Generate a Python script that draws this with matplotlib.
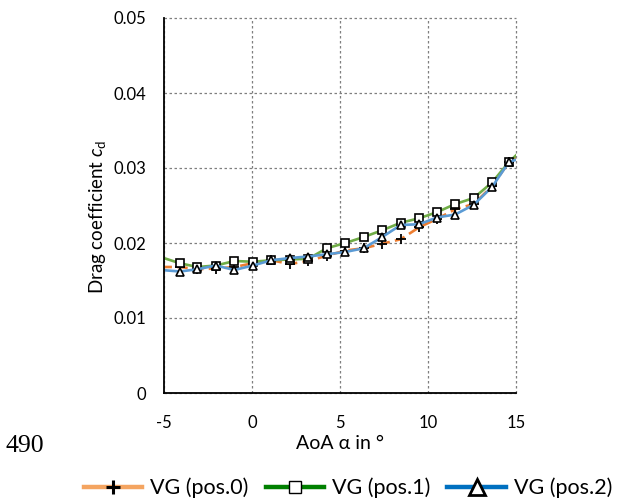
import matplotlib
matplotlib.use("Agg")
import matplotlib.pyplot as plt
from matplotlib.lines import Line2D

# Angle of attack in degrees (outer points lie just beyond the axis limits)
aoa = [-5.15, -4.1, -3.1, -2.05, -1.0, 0.05, 1.1, 2.15, 3.2, 4.25, 5.3, 6.35,
       7.4, 8.45, 9.5, 10.5, 11.55, 12.6, 13.65, 14.6, 15.55]

# Drag coefficient for each vortex generator position
cd_pos0 = [0.0168, 0.0168, 0.0165, 0.0166, 0.0168, 0.0173, 0.0177, 0.0172,
           0.0176, 0.0183, 0.0190, 0.0193, 0.0199, 0.0205, 0.0221, 0.0232,
           0.0245, 0.0252, 0.0276, 0.0308, 0.0320]
cd_pos1 = [0.0181, 0.0173, 0.0168, 0.0170, 0.0176, 0.0175, 0.0177, 0.0178,
           0.0179, 0.0193, 0.0200, 0.0208, 0.0217, 0.0227, 0.0233, 0.0241,
           0.0252, 0.0260, 0.0281, 0.0308, 0.0329]
cd_pos2 = [0.0164, 0.0162, 0.0165, 0.0170, 0.0164, 0.0170, 0.0177, 0.0180,
           0.0182, 0.0185, 0.0188, 0.0193, 0.0208, 0.0224, 0.0225, 0.0234,
           0.0238, 0.0251, 0.0275, 0.0308, 0.0315]

series_labels = ["VG (pos.0)", "VG (pos.1)", "VG (pos.2)"]
x_ticks = [-5, 0, 5, 10, 15]
y_ticks = [0, 0.01, 0.02, 0.03, 0.04, 0.05]
y_tick_labels = ["0", "0.01", "0.02", "0.03", "0.04", "0.05"]

plt.rcParams["font.family"] = ["Lato", "DejaVu Sans"]
plt.rcParams["mathtext.fontset"] = "custom"
plt.rcParams["mathtext.rm"] = "Lato"
plt.rcParams["mathtext.it"] = "Lato:italic"

fig = plt.figure(figsize=(6.24, 5.0), dpi=100)
ax = fig.add_axes([164 / 624, 1 - 393 / 500, (516 - 164) / 624, (393 - 18) / 500])

marks = slice(1, -1)
ax.plot(aoa, cd_pos0, color="#ED7D31", lw=1.9, ls=(0, (4, 2)), marker="+",
        markevery=marks, ms=6.5, mec="black", mew=1.3, zorder=3)
ax.plot(aoa, cd_pos1, color="#70AD47", lw=1.9, marker="s", markevery=marks,
        ms=5.3, mec="black", mfc="white", mew=1.2, zorder=4)
ax.plot(aoa, cd_pos2, color="#5B9BD5", lw=1.9, marker="^", markevery=marks,
        ms=6.3, mec="black", mfc="white", mew=1.2, zorder=5)

ax.set_xlim(-5, 15)
ax.set_ylim(0, 0.05)
ax.set_xticks(x_ticks)
ax.set_xticklabels([str(t) for t in x_ticks])
ax.set_yticks(y_ticks)
ax.set_yticklabels(y_tick_labels)
ax.tick_params(length=0, labelsize=12, colors="black")
ax.tick_params(axis="x", pad=16)
ax.tick_params(axis="y", pad=13)

ax.grid(True, color="#7f7f7f", lw=0.9, ls=(0, (2, 2)))
for gl in ax.get_xgridlines() + ax.get_ygridlines():
    gl.set_clip_on(False)
ax.set_axisbelow(True)
for side in ("top", "right"):
    ax.spines[side].set_visible(False)
for side in ("left", "bottom"):
    ax.spines[side].set_linewidth(1.3)
    ax.spines[side].set_color("black")
    ax.spines[side].set_zorder(6)

ax.set_xlabel("AoA α in °", fontsize=14, labelpad=2.5)
ax.set_ylabel(r"Drag coefficient $c_\mathrm{d}$", fontsize=13.5)
ax.yaxis.set_label_coords(-0.16, 0.47)

fig.text(6 / 624, 1 - 446 / 500, "490", family="Liberation Serif",
         fontsize=18.5, ha="left", va="center")

handles = [
    Line2D([], [], color="#F4A460", lw=3.2, marker="+", ms=10, mec="black", mew=2.2),
    Line2D([], [], color="#008000", lw=3.2, marker="s", ms=8, mec="black",
           mfc="white", mew=1),
    Line2D([], [], color="#0070C0", lw=3.2, marker="^", ms=11, mec="black",
           mfc="white", mew=2),
]
fig.legend(handles, series_labels, loc="center", ncol=3, frameon=False,
           bbox_to_anchor=(348 / 624, 1 - 488 / 500), fontsize=15.5,
           handlelength=2.7, handletextpad=0.37, columnspacing=0.8)

fig.savefig("out.png", dpi=100)
